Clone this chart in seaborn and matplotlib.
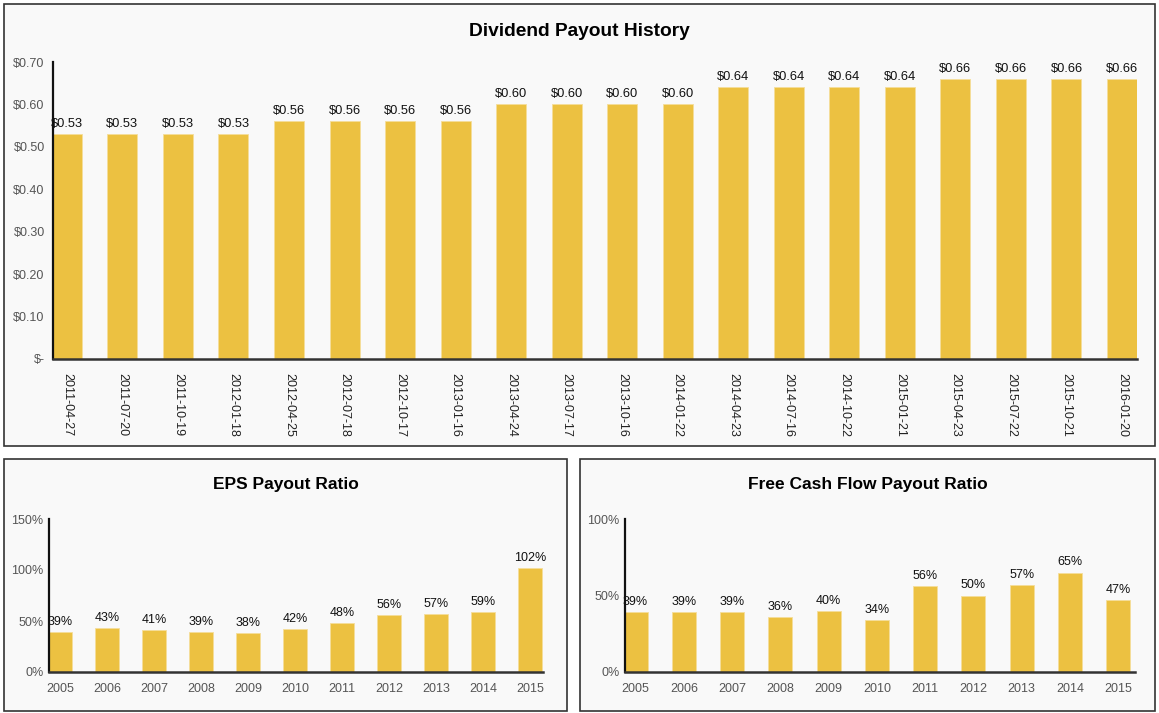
import pandas as pd
import matplotlib
matplotlib.use("Agg")
import matplotlib.pyplot as plt
from matplotlib.patches import Rectangle
import seaborn as sns

# data
div_dates = ["2011-04-27", "2011-07-20", "2011-10-19", "2012-01-18", "2012-04-25",
             "2012-07-18", "2012-10-17", "2013-01-16", "2013-04-24", "2013-07-17",
             "2013-10-16", "2014-01-22", "2014-04-23", "2014-07-16", "2014-10-22",
             "2015-01-21", "2015-04-23", "2015-07-22", "2015-10-21", "2016-01-20"]
div_values = [0.53, 0.53, 0.53, 0.53, 0.56, 0.56, 0.56, 0.56, 0.60, 0.60,
              0.60, 0.60, 0.64, 0.64, 0.64, 0.64, 0.66, 0.66, 0.66, 0.66]

years = ["2005", "2006", "2007", "2008", "2009", "2010", "2011", "2012", "2013", "2014", "2015"]
eps_ratio = [39, 43, 41, 39, 38, 42, 48, 56, 57, 59, 102]
fcf_ratio = [39, 39, 39, 36, 40, 34, 56, 50, 57, 65, 47]

W, H = 1159, 713
BAR = "#ECC141"
PANEL = "#F9F9F9"

sns.set_style("white")
plt.rcParams["font.family"] = ["Liberation Sans", "DejaVu Sans"]

fig = plt.figure(figsize=(W / 100, H / 100), dpi=100)
fig.patch.set_facecolor("white")


def panel(x0, y0, x1, y1, title, y_title, size):
    # grey card with dark border, pixel coords from the top-left
    fig.patches.append(Rectangle((x0 / W, 1 - y1 / H), (x1 - x0) / W, (y1 - y0) / H,
                                 transform=fig.transFigure, facecolor=PANEL,
                                 edgecolor="#333333", linewidth=1.2, zorder=-5))
    fig.text((x0 + x1) / 2 / W, 1 - y_title / H, title, ha="center", va="center",
             fontsize=size, fontweight="bold", color="black")


def axes_px(x0, y0, x1, y1):
    ax = fig.add_axes([x0 / W, 1 - y1 / H, (x1 - x0) / W, (y1 - y0) / H])
    ax.set_facecolor("none")
    return ax


def style(ax):
    for s in ["top", "right"]:
        ax.spines[s].set_visible(False)
    ax.spines["left"].set_color("#111111")
    ax.spines["left"].set_linewidth(1.6)
    ax.spines["bottom"].set_color("#333333")
    ax.spines["bottom"].set_linewidth(1.8)
    ax.tick_params(axis="both", length=0, labelsize=9, colors="#555555")
    ax.set_xlabel("")
    ax.set_ylabel("")


panel(4, 4, 1155, 446, "Dividend Payout History", 31, 13.8)
panel(4, 459, 567, 711, "EPS Payout Ratio", 485, 12.5)
panel(580, 459, 1155, 711, "Free Cash Flow Payout Ratio", 485, 12.5)

# top: dividend history
ax1 = axes_px(53, 62, 1137, 359)
df1 = pd.DataFrame({"date": div_dates, "value": div_values})
sns.barplot(data=df1, x="date", y="value", color=BAR, width=0.54, saturation=1,
            edgecolor="#F5DE9A", linewidth=0.6, ax=ax1)
ax1.set_xlim(-0.25, len(div_dates) - 0.73)
ax1.set_ylim(0, 0.70)
ax1.set_yticks([0, 0.1, 0.2, 0.3, 0.4, 0.5, 0.6, 0.7])
ax1.set_yticklabels(["$-"] + [f"${v:.2f}" for v in [0.1, 0.2, 0.3, 0.4, 0.5, 0.6, 0.7]])
style(ax1)
ax1.tick_params(axis="y", pad=6)
ax1.tick_params(axis="x", rotation=270, pad=10, colors="#222222")
ax1.bar_label(ax1.containers[0], labels=[f"${v:.2f}" for v in div_values],
              fontsize=9.3, padding=3, color="#111111")

# bottom left: EPS payout ratio
ax2 = axes_px(49, 519, 543, 672)
df2 = pd.DataFrame({"year": years, "ratio": eps_ratio})
sns.barplot(data=df2, x="year", y="ratio", color=BAR, width=0.5, saturation=1,
            edgecolor="#F5DE9A", linewidth=0.6, ax=ax2)
ax2.set_xlim(-0.24, len(years) - 0.72)
ax2.set_ylim(0, 150)
ax2.set_yticks([0, 50, 100, 150])
ax2.set_yticklabels(["0%", "50%", "100%", "150%"])
style(ax2)
ax2.tick_params(axis="y", pad=4)
ax2.tick_params(axis="x", pad=8)
ax2.bar_label(ax2.containers[0], labels=[f"{v}%" for v in eps_ratio],
              fontsize=9, padding=3, color="#111111")

# bottom right: FCF payout ratio
ax3 = axes_px(625, 519, 1135, 672)
df3 = pd.DataFrame({"year": years, "ratio": fcf_ratio})
sns.barplot(data=df3, x="year", y="ratio", color=BAR, width=0.5, saturation=1,
            edgecolor="#F5DE9A", linewidth=0.6, ax=ax3)
ax3.set_xlim(-0.22, len(years) - 0.65)
ax3.set_ylim(0, 100)
ax3.set_yticks([0, 50, 100])
ax3.set_yticklabels(["0%", "50%", "100%"])
style(ax3)
ax3.tick_params(axis="y", pad=4)
ax3.tick_params(axis="x", pad=8)
ax3.bar_label(ax3.containers[0], labels=[f"{v}%" for v in fcf_ratio],
              fontsize=9, padding=3, color="#111111")

fig.savefig("out.png", dpi=100, facecolor="white")
